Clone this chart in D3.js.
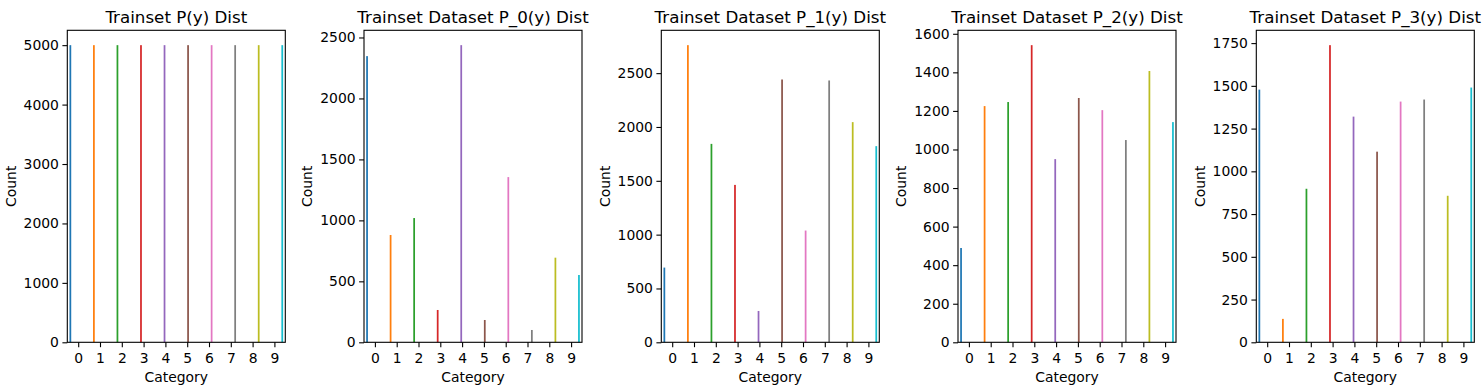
<!DOCTYPE html>
<html>
<head>
<meta charset="utf-8">
<script src="https://cdn.jsdelivr.net/npm/d3@7"></script>
<style>
  html, body { margin: 0; padding: 0; background: #fff; }
  svg { display: block; font-family: "DejaVu Sans", sans-serif; }
</style>
</head>
<body>
<svg id="fig" width="1482" height="390"></svg>
<script>
// category labels (class ids)
const categories = [0, 1, 2, 3, 4, 5, 6, 7, 8, 9];

// counts per class
const countsAll = [5000, 5000, 5000, 5000, 5000, 5000, 5000, 5000, 5000, 5000];
const countsP0 = [2347, 880, 1019, 265, 2437, 183, 1355, 101, 694, 552];
const countsP1 = [694, 2760, 1843, 1462, 291, 2441, 1038, 2432, 2045, 1822];
const countsP2 = [489, 1225, 1246, 1541, 950, 1267, 1204, 1049, 1407, 1142];
const countsP3 = [1478, 137, 898, 1738, 1320, 1115, 1408, 1420, 857, 1490];

// y tick values per panel
const ticksAll = [0, 1000, 2000, 3000, 4000, 5000];
const ticksP0 = [0, 500, 1000, 1500, 2000, 2500];
const ticksP1 = [0, 500, 1000, 1500, 2000, 2500];
const ticksP2 = [0, 200, 400, 600, 800, 1000, 1200, 1400, 1600];
const ticksP3 = [0, 250, 500, 750, 1000, 1250, 1500, 1750];

const titles = [
  'Trainset P(y) Dist',
  'Trainset Dataset P_0(y) Dist',
  'Trainset Dataset P_1(y) Dist',
  'Trainset Dataset P_2(y) Dist',
  'Trainset Dataset P_3(y) Dist'
];

const panels = [
  { title: titles[0], counts: countsAll, ticks: ticksAll },
  { title: titles[1], counts: countsP0, ticks: ticksP0 },
  { title: titles[2], counts: countsP1, ticks: ticksP1 },
  { title: titles[3], counts: countsP2, ticks: ticksP2 },
  { title: titles[4], counts: countsP3, ticks: ticksP3 }
];

const panelLefts = [67.3, 364, 661.3, 958, 1256.3];
const panelWidth = 218;
const axTop = 30.3, axBottom = 342.3;
const color = d3.scaleOrdinal(categories, d3.schemeCategory10);

const svg = d3.select('#fig');

panels.forEach((p, i) => {
  const left = panelLefts[i];
  const g = svg.append('g').attr('transform', `translate(${left},0)`);

  const x = d3.scaleLinear().domain([-0.5, 9.5]).range([0, panelWidth]);
  // seaborn dodge: each category split into 10 hue slots over 0.8 width
  const hue = d3.scaleBand().domain(categories).range([-0.4, 0.4]);
  const y = d3.scaleLinear().domain([0, d3.max(p.counts) * 1.05]).range([axBottom, axTop]);

  g.selectAll('rect.bar')
    .data(categories)
    .join('rect')
    .attr('class', 'bar')
    .attr('x', d => x(d + hue(d)))
    .attr('width', x(hue.bandwidth()) - x(0))
    .attr('y', d => y(p.counts[d]))
    .attr('height', d => y(0) - y(p.counts[d]))
    .attr('fill', d => color(d));

  const xAxis = g.append('g')
    .attr('transform', `translate(0,${axBottom})`)
    .call(d3.axisBottom(x).tickValues(categories).tickSize(4.9).tickPadding(3.5).tickFormat(d3.format('d')));
  const yAxis = g.append('g')
    .call(d3.axisLeft(y).tickValues(p.ticks).tickSize(4.9).tickPadding(3.5).tickFormat(d3.format('d')));

  [xAxis, yAxis].forEach(a => {
    a.select('.domain').remove();
    a.selectAll('line').attr('stroke', '#000').attr('stroke-width', 1.1);
    a.selectAll('text').attr('font-size', '13.9px').attr('fill', '#000')
      .attr('font-family', '"DejaVu Sans", sans-serif');
  });
  xAxis.selectAll('text').attr('dy', '0.85em');

  // frame
  g.append('rect')
    .attr('x', 0).attr('y', axTop)
    .attr('width', panelWidth).attr('height', axBottom - axTop)
    .attr('fill', 'none').attr('stroke', '#000').attr('stroke-width', 1.1);

  g.append('text')
    .attr('x', panelWidth / 2).attr('y', 22.5)
    .attr('text-anchor', 'middle')
    .attr('font-size', '16.7px')
    .text(p.title);

  g.append('text')
    .attr('x', panelWidth / 2).attr('y', 381.5)
    .attr('text-anchor', 'middle')
    .attr('font-size', '13.9px')
    .text('Category');

  const yb = yAxis.node().getBBox();
  g.append('text')
    .attr('transform', `translate(${yb.x - 8},${(axTop + axBottom) / 2}) rotate(-90)`)
    .attr('text-anchor', 'middle')
    .attr('font-size', '13.9px')
    .text('Count');
});
</script>
</body>
</html>
